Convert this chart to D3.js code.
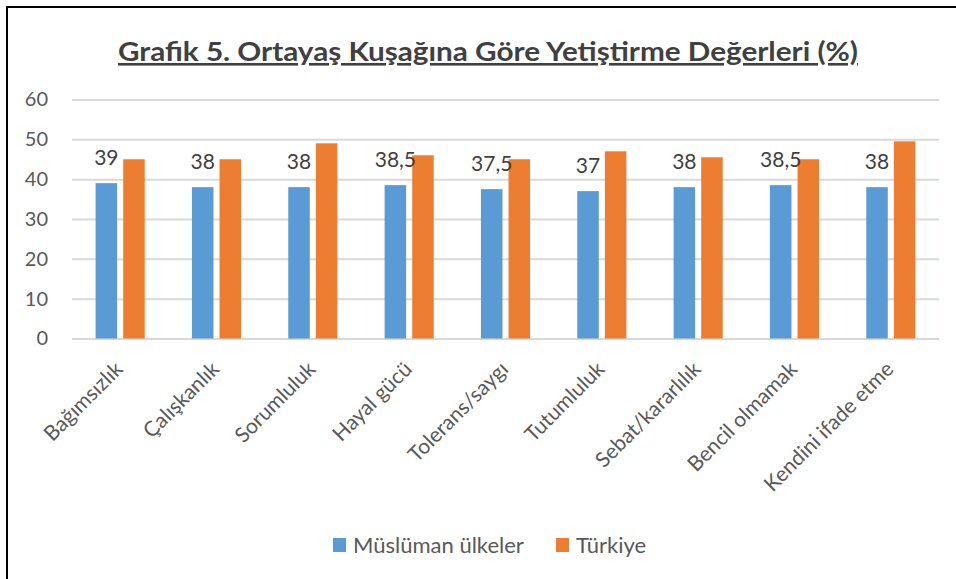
<!DOCTYPE html>
<html>
<head>
<meta charset="utf-8">
<script src="https://cdn.jsdelivr.net/npm/d3@7"></script>
<style>
  body { margin: 0; background: #fff; }
  text { font-family: Lato, "Open Sans", sans-serif; }
</style>
</head>
<body>
<svg id="canvas"></svg>
<script>
// chart values
const categories = ["Bağımsızlık", "Çalışkanlık", "Sorumluluk", "Hayal gücü", "Tolerans/saygı",
  "Tutumluluk", "Sebat/kararlılık", "Bencil olmamak", "Kendini ifade etme"];
const seriesNames = ["Müslüman ülkeler", "Türkiye"];
const muslimValues = [39, 38, 38, 38.5, 37.5, 37, 38, 38.5, 38];
const turkeyValues = [45, 45, 49, 46, 45, 47, 45.5, 45, 49.5];
const yTicks = [0, 10, 20, 30, 40, 50, 60];
const colors = ["#5b9bd5", "#ed7d31"];
const titleText = "Grafik 5. Ortayaş Kuşağına Göre Yetiştirme Değerleri (%)";

let width = 956;
let height = 579;
let plot = { left: 72, right: 939, top: 99.5, bottom: 338.5 };

let canvas = d3.select('#canvas');
canvas.attr('width', width);
canvas.attr('height', height);

// outer frame (only left and top edges are visible)
canvas.append('rect')
  .attr('x', 7).attr('y', 7)
  .attr('width', 980).attr('height', 600)
  .attr('fill', 'none')
  .attr('stroke', '#000')
  .attr('stroke-width', 2);

// title
let title = canvas.append('text')
  .attr('x', 488)
  .attr('y', 61)
  .attr('text-anchor', 'middle')
  .attr('font-size', 26)
  .attr('font-weight', 'bold')
  .attr('fill', '#404040')
  .attr('text-decoration', 'underline')
  .text(titleText);
title.attr('textLength', 740).attr('lengthAdjust', 'spacingAndGlyphs');

// scales
let xScale = d3.scaleBand()
  .domain(categories)
  .range([plot.left, plot.right])
  .padding(0);

let xInner = d3.scaleBand()
  .domain(seriesNames)
  .range([xScale.bandwidth() * 0.245, xScale.bandwidth() * 0.755])
  .paddingInner(0.22);

let yScale = d3.scaleLinear()
  .domain([0, 60])
  .range([plot.bottom, plot.top]);

// gridlines + y labels
let yAxis = d3.axisLeft(yScale)
  .tickValues(yTicks)
  .tickSize(-(plot.right - plot.left))
  .tickPadding(24)
  .tickFormat(d3.format('d'));

let yG = canvas.append('g')
  .attr('transform', 'translate(' + plot.left + ', 0)')
  .call(yAxis);
yG.select('.domain').remove();
yG.selectAll('.tick line').attr('stroke', '#d9d9d9').attr('stroke-width', 2);
yG.selectAll('.tick text')
  .attr('fill', '#595959')
  .attr('font-size', 20)
  .attr('font-family', 'Lato, sans-serif');

// bars
let rows = categories.map((c, i) => ({ cat: c, vals: [muslimValues[i], turkeyValues[i]] }));

let groups = canvas.append('g').selectAll('g')
  .data(rows)
  .enter()
  .append('g')
  .attr('transform', d => 'translate(' + xScale(d.cat) + ', 0)');

groups.selectAll('rect')
  .data(d => d.vals.map((v, j) => ({ name: seriesNames[j], value: v, idx: j })))
  .enter()
  .append('rect')
  .attr('x', d => xInner(d.name))
  .attr('width', xInner.bandwidth())
  .attr('y', d => yScale(d.value))
  .attr('height', d => yScale(0) - yScale(d.value))
  .attr('fill', d => colors[d.idx]);

// data labels for first series
groups.append('text')
  .attr('x', xInner(seriesNames[0]) + xInner.bandwidth() / 2)
  .attr('y', d => yScale(d.vals[0]) - 18)
  .attr('text-anchor', 'middle')
  .attr('font-size', 21)
  .attr('fill', '#404040')
  .text(d => String(d.vals[0]).replace('.', ','));

// x axis category labels
let xAxis = d3.axisBottom(xScale).tickSize(0).tickPadding(0);
let xG = canvas.append('g')
  .attr('transform', 'translate(0, ' + plot.bottom + ')')
  .call(xAxis);
xG.select('.domain').remove();
xG.selectAll('.tick text')
  .attr('font-family', 'Lato, sans-serif')
  .attr('font-size', 21)
  .attr('fill', '#595959')
  .attr('text-anchor', 'end')
  .attr('dy', 0)
  .attr('y', 0)
  .attr('transform', 'translate(4, 32) rotate(-45)');

// legend
let legend = canvas.append('g');
let legendX = [333, 556];
seriesNames.forEach((name, i) => {
  legend.append('rect')
    .attr('x', legendX[i]).attr('y', 538)
    .attr('width', 13).attr('height', 14)
    .attr('fill', colors[i]);
  legend.append('text')
    .attr('x', legendX[i] + 20)
    .attr('y', 553)
    .attr('font-size', 22)
    .attr('fill', '#595959')
    .text(name);
});
</script>
</body>
</html>
